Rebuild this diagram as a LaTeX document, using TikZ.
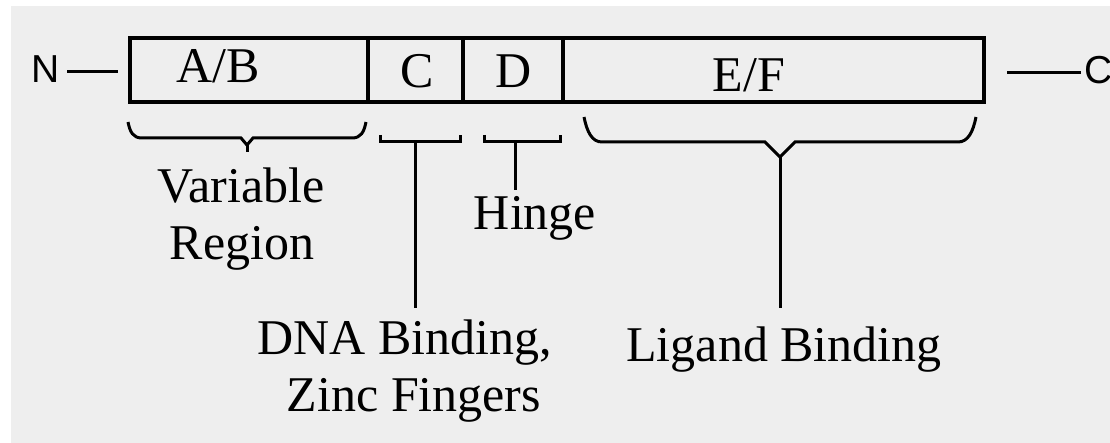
\documentclass[tikz,border=0pt]{standalone}
\usepackage{fontspec}
\setmainfont{Liberation Serif}
\newfontfamily\termfont{Liberation Sans}
\definecolor{paper}{HTML}{EEEEEE}
\begin{document}
\begin{tikzpicture}[x=1pt,y=-1pt,
  lbl/.style={font=\fontsize{50}{56}\selectfont, anchor=base, inner sep=0pt},
  term/.style={font=\termfont\fontsize{39}{44}\selectfont, anchor=base, inner sep=0pt},
  cell/.style={draw, line width=4pt, minimum height=64pt, inner sep=0pt, outer sep=0pt, anchor=west},
  wire/.style={line width=3pt},
  brace/.style={line width=3pt, line join=miter}]
  % page and background
  \useasboundingbox (0,0) rectangle (1110,443);
  \clip (0,0) rectangle (1110,443);
  \fill[white] (0,0) rectangle (1110,443);
  \fill[paper] (11,6) rectangle (1110,443);

  % receptor domains
  \node[cell, minimum width=238pt] (ab) at (130,70) {};
  \node[cell, minimum width=95pt]  (c)  at (ab.east) {};
  \node[cell, minimum width=100pt] (d)  at (c.east) {};
  \node[cell, minimum width=421pt] (ef) at (d.east) {};

  \node[lbl] (abt) at (218,83) {A/B};
  \node[lbl] (ct)  at (417,88) {C};
  \node[lbl] (dt)  at (514,88) {D};
  \node[lbl] (eft) at (749,92) {E/F};

  % termini
  \node[term] (nterm) at (46,83) {N};
  \node[term, anchor=base west] (cterm) at (1084,84) {C};
  \coordinate (n1) at (67,72);
  \coordinate (n2) at (118,72);
  \coordinate (c1) at (1007,73);
  \coordinate (c2) at (1081,73);
  \draw[wire] (n1) -- (n2);
  \draw[wire] (c1) -- (c2);

  % variable region brace
  \coordinate (vtip) at (247,152);
  \draw[brace] (128,122) .. controls (130,132) and (133,138) .. (142,138)
    -- (241,138) -- (247,145) -- (253,138) -- (352,138)
    .. controls (361,138) and (364,132) .. (366,122);
  \draw[wire] (247,145) -- (vtip);
  \node[lbl] (var) at (241,203) {Variable};
  \node[lbl] (reg) at (242,260) {Region};

  % DNA binding bracket
  \coordinate (ctip) at (415,142);
  \coordinate (cend) at (415,308);
  \draw[brace] (380,135) -- (380,142) -- (460,142) -- (460,135);
  \draw[wire] (ctip) -- (cend);
  \node[lbl] (dna) at (405,354) {DNA Binding,};
  \node[lbl] (zinc) at (414,411) {Zinc Fingers};

  % hinge bracket
  \coordinate (htip) at (515,142);
  \coordinate (hend) at (515,190);
  \draw[brace] (484,135) -- (484,142) -- (560,142) -- (560,135);
  \draw[wire] (htip) -- (hend);
  \node[lbl] (hinge) at (535,230) {Hinge};

  % ligand binding brace
  \coordinate (ltip) at (780,157);
  \coordinate (lend) at (780,308);
  \draw[brace] (584,117) .. controls (587,132) and (592,142) .. (602,142)
    -- (765,142) -- (ltip) -- (795,142) -- (958,142)
    .. controls (968,142) and (973,132) .. (976,117);
  \draw[wire] (ltip) -- (lend);
  \node[lbl] (lig) at (784,361) {Ligand Binding};
\end{tikzpicture}
\end{document}
